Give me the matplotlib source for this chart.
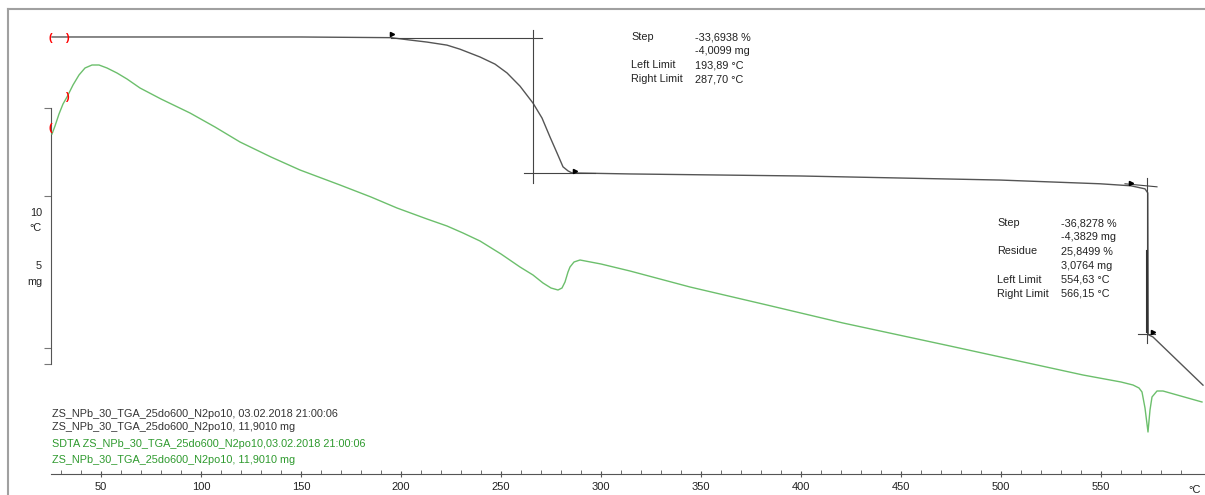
import matplotlib.pyplot as plt
from matplotlib.lines import Line2D

# TGA curve: temperature (°C) vs. mass (mg)
tga_temp = [25.5, 75, 150, 195, 204.5, 213, 223, 229.5, 239.5, 247, 253, 259.5, 266, 270.5,
            274.5, 278, 281, 283.5, 285.5, 314.5, 399.5, 499.5, 549.5, 565, 572,
            573.4, 573.6, 576, 601]
tga_mass = [11.90, 11.90, 11.90, 11.88, 11.81, 11.75, 11.66, 11.54, 11.31, 11.10, 10.84, 10.45,
            9.95, 9.51, 8.95, 8.48, 8.07, 7.95, 7.89, 7.86, 7.80, 7.68, 7.57, 7.51, 7.42,
            7.30, 3.12, 3.05, 1.63]

# SDTA curve: temperature (°C) vs. signal
sdta_temp = [25.5, 27, 29, 31, 33, 36, 39, 42, 45.5, 49, 53, 58, 63, 69.5, 80, 94.5, 107,
             119.5, 135, 149.5, 169.5, 185, 198, 213, 223, 231, 239.5, 250, 259.5, 266, 271, 275,
             278.5, 280.5, 282, 283.5, 284.5, 286.5, 289.5, 300, 314.5, 344.5, 383, 421, 474.5,
             541, 560, 566, 569, 570.5, 572, 573.5, 574.5, 575.5, 578, 581, 600.5]
sdta_val = [17.0, 17.4, 18.0, 18.5, 18.85, 19.45, 19.95, 20.3, 20.45, 20.45, 20.3, 20.05, 19.75,
            19.3, 18.75, 18.05, 17.35, 16.6, 15.85, 15.2, 14.45, 13.85, 13.3, 12.75, 12.4, 12.05,
            11.65, 11.0, 10.35, 9.95, 9.55, 9.3, 9.2, 9.3, 9.6, 10.1, 10.35, 10.6, 10.7, 10.5,
            10.15, 9.35, 8.45, 7.55, 6.4, 4.95, 4.6, 4.45, 4.3, 4.1, 3.3, 2.1, 3.2, 3.85, 4.15,
            4.15, 3.6]

x_ticks = [50, 100, 150, 200, 250, 300, 350, 400, 450, 500, 550]

step1_text = [("Step", "-33,6938 %"), ("", "-4,0099 mg"),
              ("Left Limit", "193,89 °C"), ("Right Limit", "287,70 °C")]
step2_text = [("Step", "-36,8278 %"), ("", "-4,3829 mg"), ("Residue", "25,8499 %"),
              ("", "3,0764 mg"), ("Left Limit", "554,63 °C"), ("Right Limit", "566,15 °C")]
legend_lines = [("ZS_NPb_30_TGA_25do600_N2po10, 03.02.2018 21:00:06", "#333333"),
                ("ZS_NPb_30_TGA_25do600_N2po10, 11,9010 mg", "#333333"),
                ("SDTA ZS_NPb_30_TGA_25do600_N2po10,03.02.2018 21:00:06", "#2e9a2e"),
                ("ZS_NPb_30_TGA_25do600_N2po10, 11,9010 mg", "#2e9a2e")]

plt.rcParams['font.family'] = ['Liberation Sans', 'DejaVu Sans']

W, H = 1205, 495
fig = plt.figure(figsize=(W / 100, H / 100), dpi=100)


def fx(px):
    return px / W


def fy(py):
    return 1 - py / H


ax = fig.add_axes([fx(51), fy(474), fx(W - 51), 474 / H])
ax.set_xlim(25, 602)
ax.set_ylim(-0.991, 12.991)
ax.patch.set_alpha(0)

ax2 = ax.twinx()
ax2.set_ylim(0, 23.7)
for s in ax2.spines.values():
    s.set_visible(False)
ax2.set_yticks([])

ax.plot(tga_temp, tga_mass, color="#555555", lw=1.0)
ax2.plot(sdta_temp, sdta_val, color="#6cbf6c", lw=1.0)

# step evaluation construction lines
tan_kw = dict(color="#444444", lw=0.8)
ax.plot([195, 270.5], [11.87, 11.87], **tan_kw)
ax.plot([266, 266], [12.11, 7.59], **tan_kw)
ax.plot([261.5, 297], [7.89, 7.89], **tan_kw)
ax.plot([562, 578], [7.57, 7.48], **tan_kw)
ax.plot([573, 573], [7.74, 2.87], **tan_kw)
ax.plot([568.5, 577], [3.14, 3.14], **tan_kw)
ax.plot([573, 573], [5.6, 3.2], color="#333333", lw=1.5)

ax.plot([195.5, 287, 565, 576], [11.99, 7.95, 7.59, 3.20], ls="none",
        marker=">", ms=3, color="black")

# red limit brackets
ax.text(24.5, 11.87, "(", color="red", fontsize=8, fontweight="bold", ha="center", va="center")
ax.text(33, 11.87, ")", color="red", fontsize=8, fontweight="bold", ha="center", va="center")
ax2.text(33, 18.85, ")", color="red", fontsize=8, fontweight="bold", ha="center", va="center")
ax2.text(24.5, 17.3, "(", color="red", fontsize=8, fontweight="bold", ha="center", va="center")

# axes styling
ax.spines['top'].set_visible(False)
ax.spines['right'].set_visible(False)
ax.spines['bottom'].set_color("#555555")
ax.spines['left'].set_color("#555555")
ax.spines['left'].set_bounds(2.25, 9.81)
ax.set_yticks([9.81, 7.21, 2.73, 2.25])
ax.set_yticklabels([])
ax.tick_params(axis='y', direction='out', length=5, color="#777777")
ax.set_xticks(x_ticks)
ax.set_xticks(range(30, 600, 10), minor=True)
ax.tick_params(axis='x', which='major', direction='inout', length=5, color="#555555",
               labelsize=8, labelcolor="#222222", pad=3)
ax.tick_params(axis='x', which='minor', direction='in', length=3, color="#555555")

fs = 7.8
fig.text(fx(1195), fy(490), "°C", fontsize=8, ha="center", va="center", color="#222222")
fig.text(fx(42), fy(213), "10", fontsize=fs, ha="right", va="center", color="#222222")
fig.text(fx(42), fy(228), "°C", fontsize=fs, ha="right", va="center", color="#222222")
fig.text(fx(42), fy(266), "5", fontsize=fs, ha="right", va="center", color="#222222")
fig.text(fx(42), fy(282), "mg", fontsize=fs, ha="right", va="center", color="#222222")

for i, (lab, val) in enumerate(step1_text):
    y = 37 + i * 14
    fig.text(fx(631), fy(y), lab, fontsize=fs, va="center", color="#222222")
    fig.text(fx(695), fy(y), val, fontsize=fs, va="center", color="#222222")

for i, (lab, val) in enumerate(step2_text):
    y = 223 + i * 14.2
    fig.text(fx(997), fy(y), lab, fontsize=fs, va="center", color="#222222")
    fig.text(fx(1061), fy(y), val, fontsize=fs, va="center", color="#222222")

for (txt, col), y in zip(legend_lines, [414, 427, 444, 460]):
    fig.text(fx(52), fy(y), txt, fontsize=fs, va="center", color=col)

# outer frame
fig.add_artist(Line2D([fx(8), 1], [fy(9), fy(9)], color="#a0a0a0", lw=1.5))
fig.add_artist(Line2D([fx(8), fx(8)], [fy(9), 0], color="#a0a0a0", lw=1.5))

fig.savefig("out.png", dpi=100)
